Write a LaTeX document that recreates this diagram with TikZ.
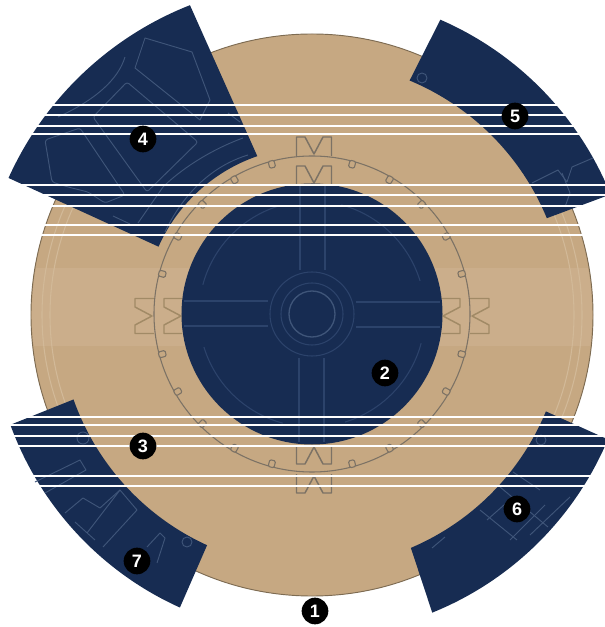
\documentclass[tikz,border=0pt]{standalone}
\usepackage{fontspec}
\setmainfont{Liberation Sans}
\definecolor{navy}{HTML}{172C52}
\definecolor{tan}{HTML}{C6A882}
\definecolor{tanband}{HTML}{CBAE8B}
\definecolor{tanlite}{HTML}{D2B998}
\definecolor{rim}{HTML}{7D6B52}
\definecolor{ringc}{HTML}{7C7265}
\definecolor{crownew}{HTML}{A18A66}
\definecolor{plan}{HTML}{3F5579}
\definecolor{planf}{HTML}{2C436B}
\tikzset{
  x=.75pt,y=.75pt,
  wedgefill/.style={fill=navy},
  planline/.style={draw=plan,line width=.7pt,line join=round},
  planfaint/.style={draw=planf,line width=.8pt},
  ringline/.style={draw=ringc,line width=.8pt},
  crownline/.style={draw=ringc,line width=1.1pt,line join=round},
  rimlite/.style={draw=tanlite,line width=.8pt},
  scan/.style={draw=white,line width=1pt},
  badge/.style={circle,fill=black,text=white,minimum size=20pt,inner sep=0pt,font=\bfseries\fontsize{13.5}{14}\selectfont},
  pix/.style={shift={(-312,315)},yscale=-1}
}
% outer start, outer end, inner radius, outer radius, inner start, inner end
\newcommand{\Sector}[6]{\fill[wedgefill] (#1:#4) arc[start angle=#1,end angle=#2,radius=#4] -- (#6:#3) arc[start angle=#6,end angle=#5,radius=#3] -- cycle;}
\newcommand{\Crown}[3]{%
 \begin{scope}[shift={#3},rotate=#1]
  \draw[#2] (-17.5,130) -- (-17.5,148) -- (-9,148) -- (0,131) -- (9,148) -- (17.5,148) -- (17.5,130);
  \draw[#2] (-17.5,158) -- (-17.5,177) -- (-9,177) -- (0,160) -- (9,177) -- (17.5,177) -- (17.5,158);
 \end{scope}}
\begin{document}
\begin{tikzpicture}
\useasboundingbox (-312,-312) rectangle (293,315);
\clip (-312,-312) rectangle (293,315);
% disk
\fill[tan] (0,0) circle[radius=281];
\begin{scope}
 \clip (0,0) circle[radius=280];
 \fill[tanband] (-312,-31) rectangle (293,47);
\end{scope}
\draw[draw=rim,line width=.7pt] (0,0) circle[radius=281];
% faint rim lines
\foreach \ra/\rb in {152/205,335/385}{
 \draw[rimlite] (\ra:270) arc[start angle=\ra,end angle=\rb,radius=270];
 \draw[rimlite] (\ra:262) arc[start angle=\ra,end angle=\rb,radius=262];}
% ring and its lugs
\begin{scope}[yshift=.75pt]
\draw[ringline] (0,0) circle[radius=158];
\foreach \a in {15,30,...,345}{
  \pgfmathtruncatemacro{\m}{mod(\a,90)}
  \ifnum\m=0\else
   \draw[ringline,fill=tan,rounded corners=1pt,shift={(\a:155)},rotate=\a] (-3.5,-3) rectangle (3.5,3);
  \fi}
\end{scope}
\Crown{0}{crownline}{(2,1)}
\Crown{180}{crownline}{(2,-1)}
\Crown{90}{crownline,draw=crownew}{(0,-1)}
\Crown{270}{crownline,draw=crownew}{(0,-1)}
% central dark circle
\begin{scope}[yshift=.75pt]
\fill[navy] (0,0) circle[radius=130.5];
\draw[planfaint] (0,0) circle[radius=42];
\draw[plan,line width=1pt] (0,0) circle[radius=23];
\draw[planfaint] (0,0) circle[radius=31];
\foreach \r in {0,90,180,270}{
 \begin{scope}[rotate=\r]
  \draw[planfaint] (-12,44) -- (-12,128);
  \draw[planfaint] (13,44) -- (13,128);
  \draw[planfaint] (17:113) arc[start angle=17,end angle=75,radius=113];
 \end{scope}}
\end{scope}
% wedges
\Sector{111.5}{155.7}{168}{333}{109}{156}
\Sector{22}{66.5}{254}{322}{22.4}{67.4}
\Sector{-68}{-22.8}{253}{321}{-67}{-22.4}
\Sector{200}{245.7}{253}{321}{199.5}{245.5}
% plan lines inside wedges
\begin{scope}[pix]
 % wedge 4
 \draw[planline,rounded corners=2pt] (127,82) -- (198,142) -- (147,192) -- (93,117) -- cycle;
 \draw[planline] (145,38) -- (135,68) -- (200,120) -- (210,100) -- (192,52) -- cycle;
 \draw[planline,rounded corners=2pt] (45,140) -- (80,128) -- (125,195) -- (105,203) -- (88,192) -- (68,187) -- (52,182) -- cycle;
 \draw[planline] (125,57) .. controls (118,80) and (95,100) .. (58,117);
 \draw[planline] (248,155) .. controls (215,165) and (185,190) .. (165,232);
 \draw[planline] (243,138) .. controls (210,150) and (180,170) .. (163,187) -- (138,223);
 \draw[planline] (113,216) -- (130,224);
 \draw[planline] (228,113) -- (240,122);
 % wedge 5
 \draw[planline] (422,78) circle[radius=5];
 \draw[planline] (532,183) -- (558,170) -- (567,182) -- (572,167) -- (593,158);
 \draw[planline] (562,173) -- (570,193) -- (565,207);
 % wedge 6
 \draw[planline] (513,472) -- (540,490);
 \draw[planline] (500,487) -- (548,527);
 \draw[planline] (480,510) -- (517,540);
 \draw[planline] (487,520) -- (513,497);
 \draw[planline] (510,540) -- (545,505);
 \draw[planline] (530,535) -- (570,497);
 \draw[planline] (432,548) -- (445,537);
 \draw[planline] (541,440) circle[radius=5];
 % wedge 7
 \draw[planline] (35,482) -- (80,460) -- (86,470) -- (45,493);
 \draw[planline] (65,513) -- (83,498) -- (100,508) -- (120,490) -- (137,510) -- (103,547);
 \draw[planline] (87,533) -- (120,490);
 \draw[planline] (75,522) -- (95,540);
 \draw[planline] (147,547) -- (160,533) -- (165,538) -- (157,563);
 \draw[planline] (83,438) circle[radius=6];
 \draw[planline] (187,542) circle[radius=5];
\end{scope}
% scan lines
\begin{scope}[pix]
 \foreach \yy in {105,115,126,134,185,195,206,225,235,417,425,436,446,476,486}{
  \draw[scan] (0,\yy) -- (605,\yy);}
 \node[badge] (n1) at (315,611) {1};
 \node[badge] (n2) at (385,373) {2};
 \node[badge] (n3) at (143,446) {3};
 \node[badge] (n4) at (143,139) {4};
 \node[badge] (n5) at (515,116) {5};
 \node[badge] (n6) at (517,509) {6};
 \node[badge] (n7) at (137,561) {7};
\end{scope}
\end{tikzpicture}
\end{document}
